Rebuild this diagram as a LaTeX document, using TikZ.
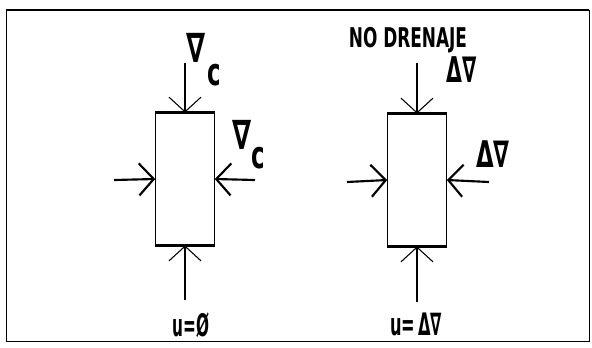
\documentclass[tikz,border=0pt]{standalone}
\usepackage{graphicx}
\usepackage{fontspec}
\setmainfont{DejaVu Sans Condensed}
\usetikzlibrary{calc,arrows.meta}

\newcommand{\alto}[3]{\scalebox{#1}[#2]{#3}}

\tikzset{
  push/.style={-{Straight Barb[length=11pt,width=24pt]},line width=0.8pt},
  pushh/.style={push,line width=1.6pt},
  probeta/.style={draw,line width=0.7pt,inner sep=0pt,minimum width=44pt,minimum height=99pt},
  lbl/.style={inner sep=0pt,font=\bfseries\fontsize{15}{15}\selectfont},
  sig/.style={inner sep=0pt,font=\bfseries\fontsize{19}{19}\selectfont},
}

\begin{document}
\begin{tikzpicture}[x=0.75pt,y=-0.75pt]
   \useasboundingbox (0,0) rectangle (592,347);
   \draw[line width=0.5pt] (6,10) rectangle (589,341);
   \draw[line width=1.6pt] (6,10) -- (589,10);

   % drenado
   \node[probeta] (pa) at (185,179) {};
   \draw[line width=2pt] (pa.north west) -- (pa.north east);
   \draw[line width=2pt] (pa.south west) -- (pa.south east);
   \coordinate (pat) at (185,63);
   \coordinate (pab) at (185,300);
   \coordinate (pal) at (114,180);
   \coordinate (par) at (255,180);
   \draw[push] (pat) -- (pa.north);
   \draw[push] (pab) -- (pa.south);
   \draw[pushh] (pal) -- (pa.west);
   \draw[pushh] (par) -- (pa.east);
   \node[sig] (sa) at (196,48) {\alto{1.2}{1.6}{∇}};
   \node[sig] (ca) at (214,75) {\alto{1}{1.5}{c}};
   \node[sig] (sb) at (242,135) {\alto{1.2}{1.6}{∇}};
   \node[sig] (cb) at (258,158) {\alto{1}{1.5}{c}};
   \node[lbl] (ua) at (191,325) {\alto{0.85}{1.55}{u=Ø}};

   % no drenado
   \node[probeta] (pb) at (417,180) {};
   \draw[line width=2pt] (pb.north west) -- (pb.north east);
   \draw[line width=2pt] (pb.south west) -- (pb.south east);
   \coordinate (pbt) at (417,63);
   \coordinate (pbb) at (417,302);
   \coordinate (pbl) at (347,182);
   \coordinate (pbr) at (489,182);
   \draw[push] (pbt) -- (pb.north);
   \draw[push] (pbb) -- (pb.south);
   \draw[pushh] (pbl) -- (pb.west);
   \draw[pushh] (pbr) -- (pb.east);
   \node[lbl] (nd) at (408,40) {\alto{0.94}{1.36}{NO DRENAJE}};
   \node[sig] (da) at (462,70) {\alto{0.9}{1.4}{Δ∇}};
   \node[sig] (db) at (493,154) {\alto{1}{1.45}{Δ∇}};
   \node[lbl] (ub) at (416,324) {\alto{0.9}{1.55}{u=\,Δ∇}};
\end{tikzpicture}
\end{document}
